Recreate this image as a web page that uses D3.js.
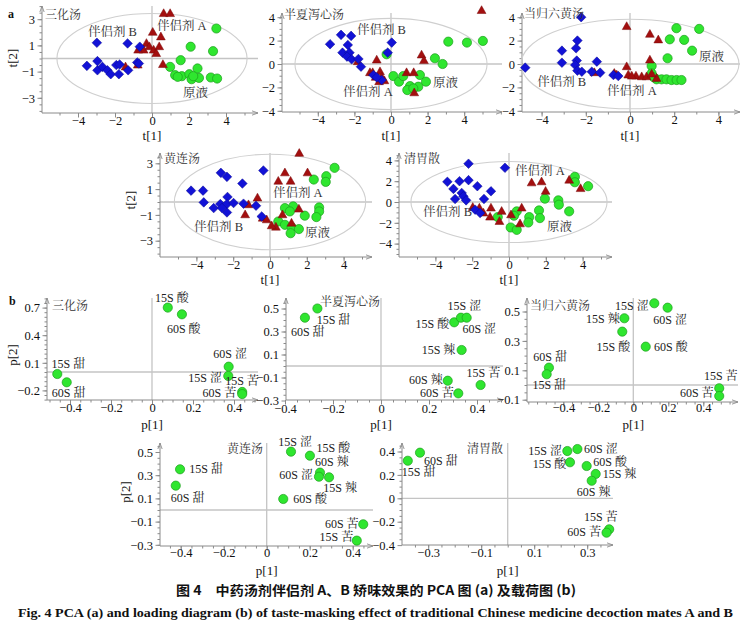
<!DOCTYPE html>
<html><head><meta charset="utf-8">
<script src="https://cdn.jsdelivr.net/npm/d3@7"></script>
<style>
body{margin:0;background:#fff}
svg text{font-family:"Liberation Serif","Times New Roman","Noto Serif CJK SC","Noto Sans CJK SC",serif;fill:#111}
</style>
</head><body>
<svg id="c" width="750" height="626"></svg>
<script>
// ================= DATA =================
const groupNames = ["伴侣剂 B", "伴侣剂 A", "原液"];
const panelTitles = ["三化汤", "半夏泻心汤", "当归六黄汤", "黄连汤", "清胃散"];

// score plots: [t1, t2]
const sanhuaB = [[-2.98,1.2],[-1.32,1.15],[-0.66,0.9],[-3.52,-0.56],[-2.95,-0.2],[-2.95,-0.9],[-2.68,-0.64],[-2.41,-0.9],[-2.23,-1.2],[-1.93,-0.5],[-1.79,-1.2],[-1.75,-0.46],[-1.29,-0.9],[-0.8,-0.3],[-0.71,-0.38]];
const sanhuaA = [[0.63,3.43],[0.98,3.43],[0.04,2.0],[0.48,1.65],[-0.3,1.15],[-0.63,0.76],[-0.45,0.64],[-0.14,0.9],[0.09,0.64],[0.39,0.9],[0.23,0.38],[-0.77,-0.5],[-1.43,-0.64],[0.59,-0.46],[-0.75,0.64]];
const sanhuaRaw = [[3.48,2.29],[2.09,0.9],[3.3,0.56],[1.55,-0.13],[0.98,-0.64],[2.46,-0.76],[1.25,-1.27],[1.61,-1.35],[2.02,-1.2],[2.14,-1.58],[2.54,-1.48],[3.18,-1.45],[3.52,-1.53],[1.39,-1.4],[2.23,-1.35]];

const banxiaB = [[-3.33,1.69],[-2.73,2.49],[-2.18,2.4],[-2.36,1.63],[-2.65,0.97],[-2.27,0.97],[-2.4,0.63],[-2.15,0.4],[-1.78,0.43],[-1.64,-0.23],[0.04,1.83],[-0.18,0.97],[-0.96,-0.94],[-0.51,-1.37],[-0.78,-1.14]];
const banxiaA = [[4.95,4.57],[-1.82,0.2],[-0.78,0.34],[1.67,0.77],[1.8,0.29],[-1.15,-0.74],[-1.0,-0.74],[-0.6,-0.66],[-0.84,-1.14],[-0.65,-1.51],[-0.36,-1.43],[0.85,-0.74],[1.24,-0.74],[1.27,-2.46],[-0.51,-1.14]];
const banxiaRaw = [[3.13,1.91],[4.15,1.83],[5.02,1.97],[2.4,0.49],[2.82,0],[-0.24,0.83],[0.13,-1.03],[0.44,-1.51],[0.67,-1.03],[1.58,-0.94],[1.91,-1.51],[1.49,-1.94],[1.04,-1.89],[0.89,-2.23],[1.22,-2.09]];

const dangguiB = [[-2.21,4.0],[-4.74,-0.31],[-3.08,1.14],[-3.08,0.11],[-2.38,2.0],[-2.44,1.34],[-2.41,0.29],[-2.48,-0.09],[-2.38,-0.57],[-2.18,-0.66],[-1.73,-0.66],[-1.5,0.2],[-1.35,-0.74],[-0.75,-0.94],[-0.53,-1.03]];
const dangguiA = [[-0.15,3.2],[0.9,2.54],[1.28,2.06],[0.9,0.34],[-0.15,-0.23],[-1.61,-0.74],[-0.71,-0.8],[-0.6,-0.94],[-0.08,-0.94],[0.27,-1.03],[0.53,-1.09],[0.75,-1.09],[1.2,-1.23],[0.98,-0.86],[0.08,-1.03]];
const dangguiRaw = [[2.1,3.06],[3.13,3.0],[1.8,2.11],[2.45,2.06],[2.81,1.14],[1.7,0.49],[0.98,-0.17],[0.98,-0.8],[1.2,-1.31],[1.43,-1.31],[1.65,-1.31],[1.88,-1.37],[2.11,-1.37],[2.33,-1.37],[1.08,-1.14]];

const huanglianB = [[-4.29,0.88],[-3.64,0.88],[-3.6,-0.03],[-3.06,-0.47],[-2.67,2.26],[-2.34,1.95],[-2.31,0.39],[-2.7,-0.16],[-2.34,-0.16],[-1.98,-0.08],[-2.34,-0.81],[-2.61,-0.47],[-1.5,1.43],[-1.44,-0.13],[-0.76,-0.29],[-0.36,2.44],[-0.45,-1.12]];
const huanglianA = [[1.59,3.77],[0.81,2.26],[0.45,1.61],[1.12,1.61],[2.04,2.26],[-0.68,0.31],[-1.17,-0.21],[-1.35,-0.99],[-0.4,-1.25],[-0.18,-1.38],[0.32,-1.95],[0.68,-0.99],[1.17,-1.64],[1.57,-0.55],[0.09,-1.84]];
const huanglianRaw = [[3.51,2.65],[3.06,2.0],[3.03,1.56],[2.38,1.74],[2.67,-0.42],[2.67,-0.73],[2.52,-1.17],[1.89,-1.06],[1.26,-0.34],[0.81,-0.47],[1.08,-0.73],[0.45,-1.51],[0.81,-1.77],[1.17,-1.95],[1.57,-2.1],[1.12,-2.42]];

const qingweiB = [[-2.2,3.68],[-0.22,3.29],[-3.35,1.94],[-3.02,1.26],[-2.69,2.0],[-2.2,2.1],[-1.72,1.52],[-0.98,1.03],[-2.93,0.29],[-2.57,0.87],[-2.48,0.55],[-2.33,0.16],[-1.36,0.29],[-1.84,-0.74],[-1.57,-1.06]];
const qingweiA = [[1.23,1.84],[1.77,1.94],[1.99,1.03],[3.27,2.1],[3.89,1.29],[-1.97,-0.52],[-1.61,-0.58],[-1.39,-1.06],[-0.98,-0.58],[-1.03,-1.45],[-0.4,-0.9],[-0.52,-1.87],[0.11,-1.23],[0.69,-0.58],[0.6,-2.1]];
const qingweiRaw = [[3.58,2.42],[3.58,1.9],[4.3,1.52],[1.95,0.32],[2.68,0.16],[2.71,-0.26],[3.27,-0.9],[1.63,-0.81],[1.68,-1.55],[1.1,-1.45],[1.05,-1.97],[0.42,-0.9],[0.27,-1.32],[0.09,-2.45],[0.42,-2.68],[-0.61,-1.45]];

// loading plots: names and [p1, p2]
const sanhuaLoadNames = ["15S 酸","60S 酸","60S 涩","15S 涩","15S 苦","60S 苦","15S 甜","60S 甜"];
const sanhuaLoad = [[0.077,0.70],[0.146,0.627],[0.374,0.058],[0.372,-0.043],[0.44,-0.217],[0.44,-0.24],[-0.462,-0.022],[-0.416,-0.112]];
const banxiaLoadNames = ["15S 甜","60S 甜","15S 酸","15S 涩","60S 涩","15S 辣","15S 苦","60S 辣","60S 苦"];
const banxiaLoad = [[-0.265,0.50],[-0.317,0.42],[0.305,0.38],[0.333,0.42],[0.357,0.42],[0.336,0.139],[0.415,-0.165],[0.278,-0.128],[0.322,-0.238]];
const dangguiLoadNames = ["15S 涩","60S 涩","15S 辣","15S 酸","60S 酸","60S 甜","15S 甜","15S 苦","60S 苦"];
const dangguiLoad = [[0.12,0.556],[0.196,0.526],[-0.051,0.454],[-0.063,0.363],[0.071,0.261],[-0.482,0.118],[-0.495,0.073],[0.491,-0.022],[0.491,-0.075]];
const huanglianLoadNames = ["15S 涩","15S 酸","60S 辣","60S 涩","15S 辣","15S 甜","60S 甜","60S 酸","60S 苦","15S 苦"];
const huanglianLoad = [[0.113,0.503],[0.201,0.468],[0.248,0.322],[0.243,0.287],[0.29,0.282],[-0.403,0.351],[-0.423,0.21],[0.077,0.095],[0.449,-0.123],[0.419,-0.264]];
const qingweiLoadNames = ["15S 甜","60S 甜","15S 涩","60S 涩","15S 酸","60S 酸","15S 辣","60S 辣","15S 苦","60S 苦"];
const qingweiLoad = [[-0.377,0.321],[-0.331,0.39],[0.225,0.404],[0.263,0.421],[0.235,0.308],[0.298,0.276],[0.332,0.208],[0.317,0.15],[0.383,-0.265],[0.373,-0.294]];

// tick values
const scoreXTicks = [-4,-2,0,2,4];
const scoreYTicksOdd = [-3,-1,1,3];
const scoreYTicksEven = [-4,-2,0,2,4];
const loadXTicks = [-0.4,-0.2,0,0.2,0.4];
const loadXTicksQ = [-0.3,-0.1,0.1,0.3];
const sanhuaLoadYTicks = [-0.2,0.1,0.4,0.7];
const oddLoadYTicks = [-0.3,-0.1,0.1,0.3,0.5];
const dangguiLoadYTicks = [-0.1,0.1,0.3,0.5];
const qingweiLoadYTicks = [-0.4,-0.2,0,0.2,0.4];

// ================= LAYOUT (positions / styles) =================
const svg = d3.select("#c");
const fmt = v => (v < 0 ? "\u2212" : "") + String(Math.abs(Math.round(v*10)/10));
const AXC = "#8a8a8a", ZC = "#c4c4c4";
const GREEN = "#2fe62f", GREEN_S = "#1c9e1c", BLUE = "#1212d6", RED = "#a30f0f";

svg.append("defs").append("marker").attr("id","arr").attr("viewBox","0 0 8 8")
  .attr("refX",7).attr("refY",4).attr("markerWidth",7).attr("markerHeight",7).attr("orient","auto")
  .append("path").attr("d","M0,1.5 L7,4 L0,6.5").attr("fill","none").attr("stroke",AXC).attr("stroke-width",1);

function makePanel(geo, xTicks, yTicks, minorX, minorY, labOff) {
  const g = svg.append("g");
  const x = d3.scaleLinear()
    .domain([(geo.left-geo.x0)/geo.kx, (geo.right-geo.x0)/geo.kx]).range([geo.left, geo.right]);
  const y = d3.scaleLinear()
    .domain([(geo.y0-geo.bottom)/geo.ky, (geo.y0-geo.top)/geo.ky]).range([geo.bottom, geo.top]);
  g.append("line").attr("x1",x(0)).attr("x2",x(0)).attr("y1",geo.top).attr("y2",geo.bottom)
    .attr("stroke",ZC).attr("stroke-width",1.3);
  g.append("line").attr("x1",geo.left).attr("x2",geo.right).attr("y1",y(0)).attr("y2",y(0))
    .attr("stroke",ZC).attr("stroke-width",1.3);
  const mx = d3.range(Math.ceil(x.domain()[0]/minorX)*minorX, x.domain()[1], minorX);
  const my = d3.range(Math.ceil(y.domain()[0]/minorY)*minorY, y.domain()[1], minorY);
  g.append("g").attr("transform",`translate(0,${geo.bottom})`)
    .call(d3.axisBottom(x).tickValues(mx).tickSize(2.5).tickFormat(""))
    .call(a=>a.select(".domain").remove()).selectAll("line").attr("stroke",AXC);
  g.append("g").attr("transform",`translate(${geo.left},0)`)
    .call(d3.axisLeft(y).tickValues(my).tickSize(2.5).tickFormat(""))
    .call(a=>a.select(".domain").remove()).selectAll("line").attr("stroke",AXC);
  const xa = g.append("g").attr("transform",`translate(0,${geo.bottom})`)
    .call(d3.axisBottom(x).tickValues(xTicks).tickSize(4.5).tickSizeOuter(0).tickFormat(fmt));
  xa.select(".domain").remove();
  xa.selectAll("line").attr("stroke",AXC);
  xa.selectAll("text").attr("y",labOff).attr("dy",null).style("font-size","12.5px").style("font-family",null);
  const ya = g.append("g").attr("transform",`translate(${geo.left},0)`)
    .call(d3.axisLeft(y).tickValues(yTicks).tickSize(4.5).tickSizeOuter(0).tickFormat(fmt));
  ya.select(".domain").remove();
  ya.selectAll("line").attr("stroke",AXC);
  ya.selectAll("text").attr("x",-7).attr("dy","0.34em").style("font-size","12.5px").style("font-family",null);
  g.append("line").attr("x1",geo.left).attr("x2",geo.right).attr("y1",geo.bottom).attr("y2",geo.bottom)
    .attr("stroke",AXC).attr("stroke-width",1).attr("marker-end","url(#arr)");
  g.append("line").attr("x1",geo.left).attr("x2",geo.left).attr("y1",geo.bottom).attr("y2",geo.top)
    .attr("stroke",AXC).attr("stroke-width",1).attr("marker-end","url(#arr)");
  return {g, x, y};
}

const diamond = "M0,-4.8L4.8,0L0,4.8L-4.8,0Z";
const triangle = "M0,-4.8L4.4,3L-4.4,3Z";

function scorePanel(cfg) {
  const {g, x, y} = makePanel(cfg.geo, scoreXTicks, cfg.yTicks, 1, 0.5, cfg.labOff);
  g.append("ellipse").attr("cx",x(0)).attr("cy",y(0))
    .attr("rx",x(cfg.ell[0])-x(0)).attr("ry",y(0)-y(cfg.ell[1]))
    .attr("fill","none").attr("stroke","#cfcfcf").attr("stroke-width",1.1);
  g.append("g").selectAll("circle").data(cfg.R).join("circle")
    .attr("cx",d=>x(d[0])).attr("cy",d=>y(d[1])).attr("r",4.6)
    .attr("fill",GREEN).attr("stroke",GREEN_S).attr("stroke-width",0.7);
  g.append("g").selectAll("path").data(cfg.A).join("path")
    .attr("d",triangle).attr("transform",d=>`translate(${x(d[0])},${y(d[1])})`)
    .attr("fill",RED).attr("stroke","#7a0a0a").attr("stroke-width",0.5);
  g.append("g").selectAll("path").data(cfg.B).join("path")
    .attr("d",diamond).attr("transform",d=>`translate(${x(d[0])},${y(d[1])})`)
    .attr("fill",BLUE).attr("stroke","#0a0a90").attr("stroke-width",0.5);
  cfg.groupPos.forEach((p,i)=>{
    g.append("text").attr("x",x(p[0])).attr("y",y(p[1])).style("font-size","12.5px").style("fill","#333").text(groupNames[i]);
  });
  g.append("text").attr("x",cfg.titlePos[0]).attr("y",cfg.titlePos[1]).style("font-size","12px").style("fill","#333").text(cfg.title);
  g.append("text").attr("x",x(0)).attr("y",cfg.xLabY).attr("text-anchor","middle").style("font-size","13px").text("t[1]");
  if (cfg.yLab) g.append("text").attr("transform",`translate(${cfg.yLab[0]},${cfg.yLab[1]}) rotate(-90)`)
    .attr("text-anchor","middle").style("font-size","13px").text("t[2]");
}

function loadPanel(cfg) {
  const {g, x, y} = makePanel(cfg.geo, cfg.xTicks, cfg.yTicks, 0.05, 0.05, cfg.labOff);
  g.append("g").selectAll("circle").data(cfg.vals).join("circle")
    .attr("cx",d=>x(d[0])).attr("cy",d=>y(d[1])).attr("r",4.6)
    .attr("fill",GREEN).attr("stroke",GREEN_S).attr("stroke-width",0.7);
  g.append("g").selectAll("text").data(cfg.vals).join("text")
    .attr("x",(d,i)=>x(d[0])+cfg.off[i][0]).attr("y",(d,i)=>y(d[1])+cfg.off[i][1])
    .style("font-size","12px").style("fill","#222").text((d,i)=>cfg.names[i]);
  g.append("text").attr("x",cfg.titlePos[0]).attr("y",cfg.titlePos[1]).attr("text-anchor",cfg.titleAnchor||"start")
    .style("font-size","12px").style("fill","#333").text(cfg.title);
  g.append("text").attr("x",x(0)).attr("y",cfg.xLabY).attr("text-anchor","middle").style("font-size","13px").text("p[1]");
  if (cfg.yLab) g.append("text").attr("transform",`translate(${cfg.yLab[0]},${cfg.yLab[1]}) rotate(-90)`)
    .attr("text-anchor","middle").style("font-size","13px").text("p[2]");
}

// ----- score panels -----
scorePanel({title:panelTitles[0], B:sanhuaB, A:sanhuaA, R:sanhuaRaw, yTicks:scoreYTicksOdd,
  geo:{x0:152,kx:18.5,y0:58.5,ky:13.1,left:42,right:258,top:6,bottom:113}, labOff:12,
  ell:[5.14,3.44], groupPos:[[-3.46,1.72],[0.27,2.18],[1.68,-2.94]], titlePos:[45,19], xLabY:140, yLab:[17,58]});
scorePanel({title:panelTitles[1], B:banxiaB, A:banxiaA, R:banxiaRaw, yTicks:scoreYTicksEven,
  geo:{x0:391,kx:18.3,y0:64,ky:11.7,left:282,right:502,top:13,bottom:112}, labOff:12,
  ell:[5.25,3.9], groupPos:[[-1.86,2.56],[-2.62,-2.74],[2.3,-1.97]], titlePos:[284,19], xLabY:140});
scorePanel({title:panelTitles[2], B:dangguiB, A:dangguiA, R:dangguiRaw, yTicks:scoreYTicksEven,
  geo:{x0:630,kx:22.1,y0:64,ky:11.7,left:522,right:740,top:13,bottom:112}, labOff:12,
  ell:[4.93,3.83], groupPos:[[-4.2,-1.88],[-1.04,-2.65],[3.12,0.26]], titlePos:[524,18], xLabY:140});
scorePanel({title:panelTitles[3], B:huanglianB, A:huanglianA, R:huanglianRaw, yTicks:scoreYTicksOdd,
  geo:{x0:270,kx:18.4,y0:202,ky:12.9,left:160,right:372,top:153,bottom:257}, labOff:12,
  ell:[5.2,3.7], groupPos:[[-4.13,-2.25],[0.16,0.39],[1.9,-2.71]], titlePos:[164,163], xLabY:284, yLab:[135,200]});
scorePanel({title:panelTitles[4], B:qingweiB, A:qingweiA, R:qingweiRaw, yTicks:scoreYTicksEven,
  geo:{x0:509,kx:18.4,y0:202,ky:10.4,left:399,right:612,top:153,bottom:257}, labOff:12,
  ell:[5.33,3.9], groupPos:[[-4.67,-1.35],[0.33,2.6],[2.07,-2.79]], titlePos:[404,163], xLabY:284});

// ----- loading panels -----
loadPanel({title:panelTitles[0], names:sanhuaLoadNames, vals:sanhuaLoad, xTicks:loadXTicks, yTicks:sanhuaLoadYTicks,
  geo:{x0:152,kx:205,y0:372,ky:92,left:47,right:258,top:298,bottom:400}, labOff:12,
  off:[[-12.7,-5.3],[-15,18.7],[-15.3,-8.3],[-40,6.3],[-17,-7],[-39.7,3.3],[-5.7,-6],[-15,15]],
  titlePos:[52,310], xLabY:429, yLab:[17,355]});
loadPanel({title:panelTitles[1], names:banxiaLoadNames, vals:banxiaLoad, xTicks:loadXTicks, yTicks:oddLoadYTicks,
  geo:{x0:381,kx:240,y0:366,ky:115,left:286,right:503,top:298,bottom:400}, labOff:13,
  off:[[-0.7,15],[-14,18],[-38.7,5.7],[-13.3,-8],[-4.3,15.7],[-40,4],[-14,-7.7],[-38.7,3.3],[-38.3,4]],
  titlePos:[320,306], xLabY:429});
loadPanel({title:panelTitles[2], names:dangguiLoadNames, vals:dangguiLoad, xTicks:loadXTicks, yTicks:dangguiLoadYTicks,
  geo:{x0:633.3,kx:175,y0:385,ky:147,left:527,right:738,top:298,bottom:402}, labOff:10,
  off:[[-39.3,6.3],[-14.3,16.3],[-38.3,4.7],[-25.7,19],[8.3,4],[-15.7,-7],[-14.3,14.7],[-15.3,-8.7],[-39.3,1.3]],
  titlePos:[530,310], xLabY:429});
loadPanel({title:panelTitles[3], names:huanglianLoadNames, vals:huanglianLoad, xTicks:loadXTicks, yTicks:oddLoadYTicks,
  geo:{x0:266.7,kx:215,y0:510,ky:116,left:160,right:373,top:443,bottom:546}, labOff:11,
  off:[[-12.7,-5.3],[6.7,-4],[-5,-7],[-39.7,2.3],[-5.7,14.3],[9.3,4],[-5,16],[10,4.3],[-38.3,3.7],[-37.3,0.7]],
  titlePos:[263,453], titleAnchor:"end", xLabY:575, yLab:[130,492]});
loadPanel({title:panelTitles[4], names:qingweiLoadNames, vals:qingweiLoad, xTicks:loadXTicksQ, yTicks:qingweiLoadYTicks,
  geo:{x0:507.7,kx:265,y0:498.3,ky:117,left:402,right:613,top:443,bottom:545}, labOff:12,
  off:[[-6,15.7],[4,12.3],[-39,3.7],[6.7,4.3],[-37.3,5.3],[6.7,-0.3],[7,4],[-15,15.7],[-25.3,-8],[-39.3,3.7]],
  titlePos:[503,453], titleAnchor:"end", xLabY:575});

// panel letters
svg.append("text").attr("x",8).attr("y",18).style("font-size","12px").style("font-weight","bold").text("a");
svg.append("text").attr("x",9).attr("y",305).style("font-size","12px").style("font-weight","bold").text("b");

// captions
svg.append("text").attr("x",176).attr("y",595).attr("textLength",400).attr("lengthAdjust","spacingAndGlyphs")
  .style("font-size","13px").style("font-weight","bold").style("font-family",'"Noto Sans CJK SC","Liberation Serif",sans-serif')
  .text("图 4　中药汤剂伴侣剂 A、B 矫味效果的 PCA 图 (a) 及载荷图 (b)");
svg.append("text").attr("x",18).attr("y",617).attr("textLength",715).attr("lengthAdjust","spacingAndGlyphs")
  .style("font-size","13px").style("font-weight","bold")
  .text("Fig. 4   PCA (a) and loading diagram (b) of taste-masking effect of traditional Chinese medicine decoction mates A and B");
</script>
</body></html>
